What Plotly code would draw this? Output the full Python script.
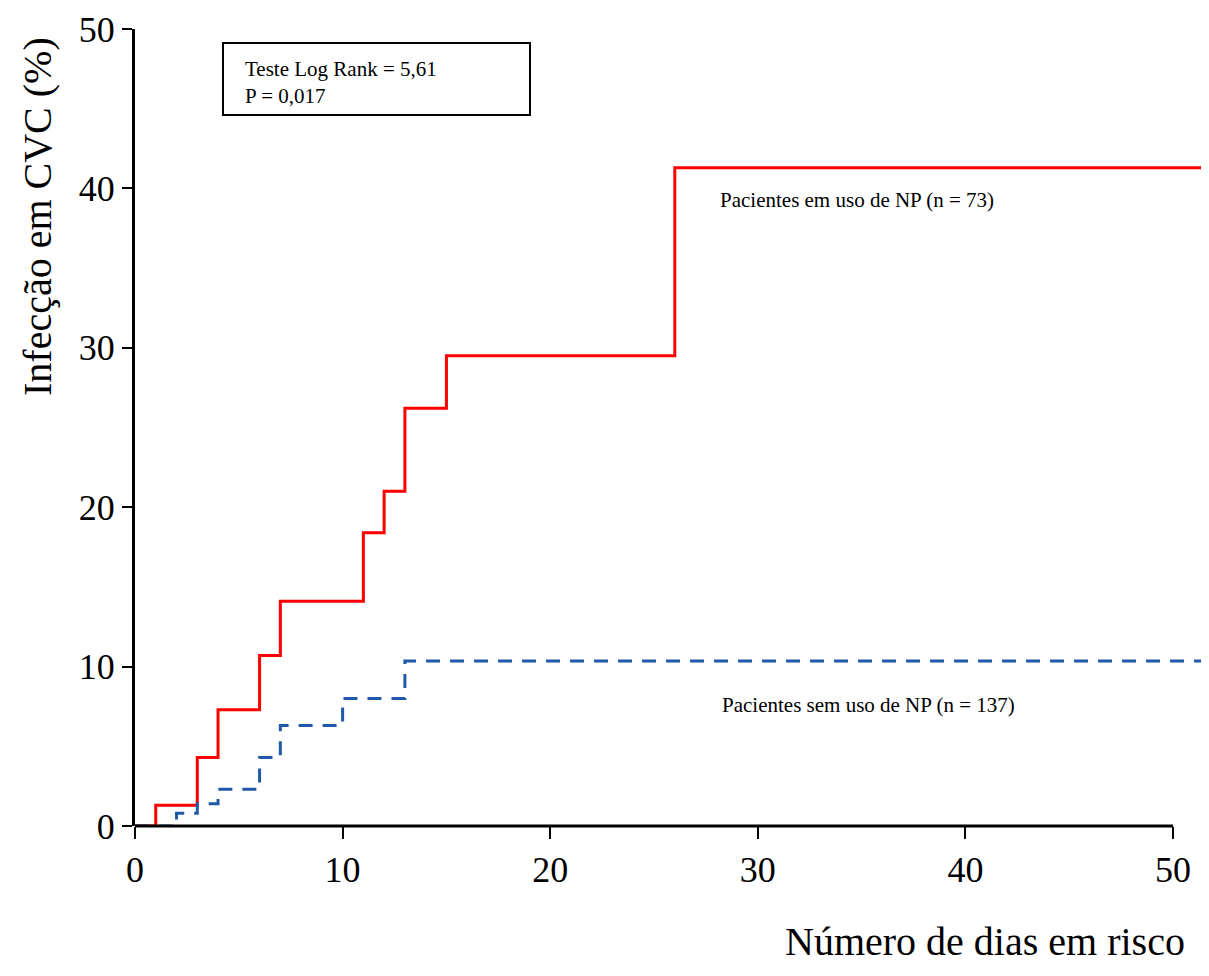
import plotly.graph_objects as go

# Data (days, cumulative infection %)
np_days = [0, 1, 3, 4, 6, 7, 11, 12, 13, 15, 26, 51.8]
np_values = [0, 1.3, 4.3, 7.3, 10.7, 14.1, 18.4, 21.0, 26.2, 29.5, 41.3, 41.3]

sem_days = [0, 2, 3, 4, 6, 7, 10, 13, 51.8]
sem_values = [0, 0.8, 1.4, 2.3, 4.3, 6.3, 8.0, 10.35, 10.35]

x_ticks = [0, 10, 20, 30, 40, 50]
y_ticks = [0, 10, 20, 30, 40, 50]

FONT = "Liberation Serif"

# page has an 8px body margin; figure coords = page coords - 8
OFF = 8
L, T, R_EDGE, B_EDGE = 135 - OFF, 29 - OFF, 1209 - OFF, 826 - OFF
W, H = 1201, 960
PW, PH = R_EDGE - L, B_EDGE - T


def px(xp):
    return (xp - OFF - L) / PW


def py(yp):
    return (B_EDGE - (yp - OFF)) / PH


fig = go.Figure()
fig.add_trace(go.Scatter(x=np_days, y=np_values, mode="lines",
                         line=dict(shape="hv", color="#FF0000", width=3),
                         name="Pacientes em uso de NP (n = 73)", showlegend=False))
fig.add_trace(go.Scatter(x=sem_days, y=sem_values, mode="lines",
                         line=dict(shape="hv", color="#1F5AA6", width=3, dash="14px,10px"),
                         name="Pacientes sem uso de NP (n = 137)", showlegend=False))

fig.update_layout(
    width=W, height=H,
    margin=dict(l=L, r=W - R_EDGE, t=T, b=H - B_EDGE),
    paper_bgcolor="white", plot_bgcolor="white",
    font=dict(family=FONT, color="black"),
    xaxis=dict(range=[0, 51.73], tickvals=x_ticks, ticks="outside", ticklen=12,
               tickwidth=2, tickcolor="black", showline=False, showgrid=False,
               zeroline=False, tickfont=dict(size=36, family=FONT)),
    yaxis=dict(range=[0, 50], tickvals=y_ticks, ticks="outside", ticklen=10,
               tickwidth=2, tickcolor="black", showline=True, linewidth=3,
               linecolor="black", showgrid=False, zeroline=False,
               tickfont=dict(size=36, family=FONT)),
)

# x-axis line only up to 50
fig.add_shape(type="line", xref="x", yref="paper", x0=-0.25, x1=50, y0=0, y1=0,
              line=dict(color="black", width=3))

# Axis titles
fig.add_annotation(text="Número de dias em risco", xref="paper", yref="paper",
                   x=px(1187), y=py(966), xanchor="right", yanchor="bottom",
                   showarrow=False, font=dict(size=40, family=FONT))
fig.add_annotation(text="Infecção em CVC (%)", xref="paper", yref="paper",
                   x=px(37), y=py(217), xanchor="center", yanchor="middle",
                   textangle=-90, showarrow=False, font=dict(size=40, family=FONT))

# Stats box
fig.add_shape(type="rect", xref="paper", yref="paper",
              x0=px(223), x1=px(530), y0=py(115), y1=py(43),
              line=dict(color="black", width=2), fillcolor="white")
fig.add_annotation(text="Teste Log Rank = 5,61<br>P = 0,017", xref="paper", yref="paper",
                   x=px(243), y=py(82), xanchor="left", yanchor="middle",
                   align="left", showarrow=False, font=dict(size=21, family=FONT))

# Group labels
fig.add_annotation(text="Pacientes em uso de NP (n = 73)", xref="paper", yref="paper",
                   x=px(718), y=py(200), xanchor="left", yanchor="middle",
                   showarrow=False, font=dict(size=21, family=FONT))
fig.add_annotation(text="Pacientes sem uso de NP (n = 137)", xref="paper", yref="paper",
                   x=px(720), y=py(705), xanchor="left", yanchor="middle",
                   showarrow=False, font=dict(size=21, family=FONT))

fig.write_html("out.html")
